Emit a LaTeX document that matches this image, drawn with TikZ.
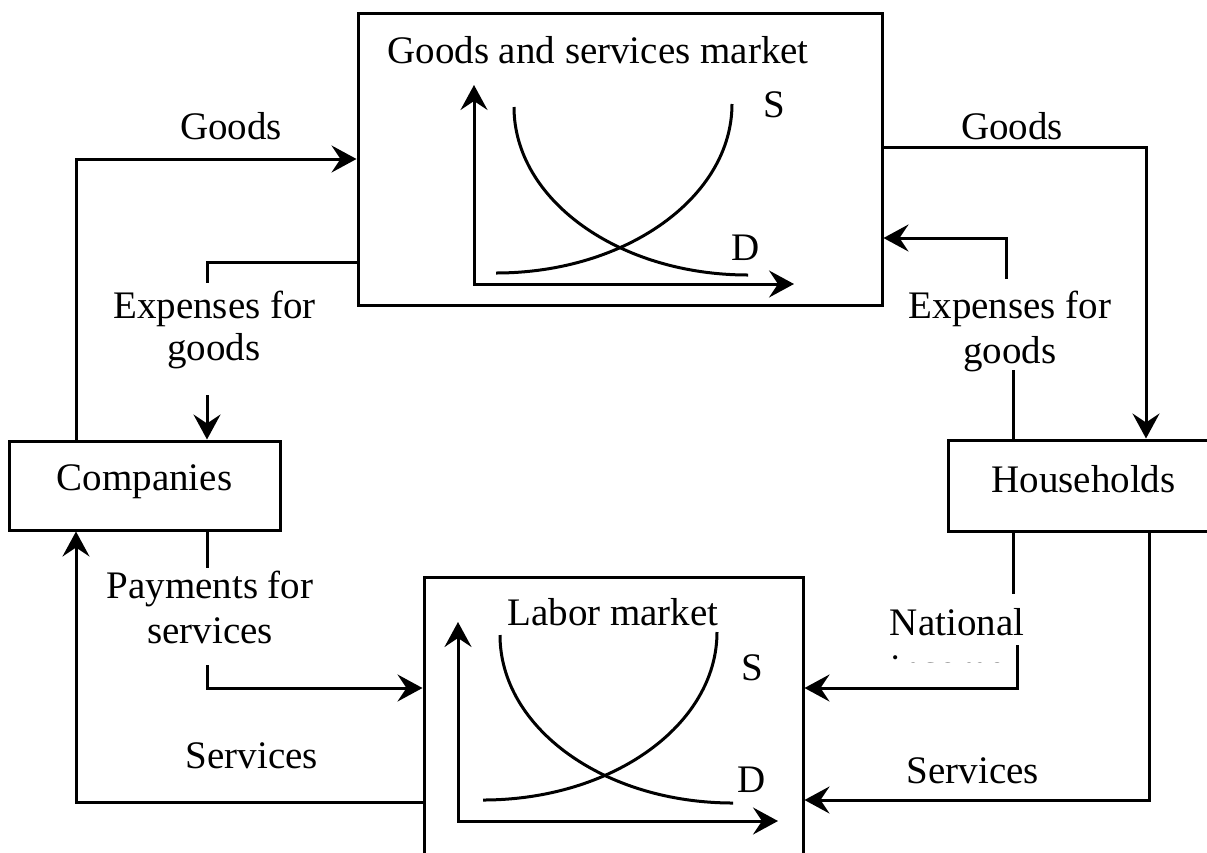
\documentclass[tikz,border=0pt]{standalone}
\usepackage{fontspec}
\setmainfont{Liberation Serif}
\usetikzlibrary{arrows.meta}
\begin{document}
\begin{tikzpicture}[x=1pt,y=-1pt,
  lw/.style={line width=3pt},
  tip/.tip={Stealth[length=25pt,width=27pt,inset=9pt]},
  flow/.style={lw,-tip},
  axes/.style={lw,tip-tip,line join=miter},
  curve/.style={line width=3pt},
  box/.style={draw,line width=3pt,inner sep=0pt,anchor=center,font=\fontsize{39}{45}\selectfont},
  txt/.style={font=\fontsize{39}{45}\selectfont,inner sep=0pt,anchor=base}]
\useasboundingbox (0,0) rectangle (1207,852);
\fill[white] (0,0) rectangle (1207,852);
\clip (0,0) rectangle (1207,852);

% boxes
\node[box,minimum width=524pt,minimum height=292pt] (goods) at (620,159) {};
\node[box,minimum width=271pt,minimum height=89pt,text height=27pt,text depth=18pt] (comp) at (144.5,485.5) {Companies};
\node[box,minimum width=271pt,minimum height=91pt,text height=27pt,text depth=14pt] (house) at (1083.5,485.5) {Households};
\node[box,minimum width=379pt,minimum height=306pt] (labor) at (613.5,730) {};

% goods market contents
\node[txt] (gtitle) at (598,63) {Goods and services market};
\coordinate (gy) at (474,85);
\coordinate (go) at (474,284);
\coordinate (gx) at (794,284);
\draw[axes] (gy) -- (go) -- (gx);
\draw[curve] (496,273) .. controls (626,273) and (732,197) .. (732,104);
\draw[curve] (514,107) .. controls (514,200) and (619,275) .. (748,275);
\node[txt] (gS) at (774,117) {S};
\node[txt] (gD) at (746,260) {D};

% labor market contents
\node[txt] (ltitle) at (613,625) {Labor market};
\coordinate (ly) at (458,622);
\coordinate (lo) at (458,821);
\coordinate (lx) at (778,821);
\draw[axes] (ly) -- (lo) -- (lx);
\draw[curve] (483,800) .. controls (612,800) and (717,725) .. (717,632);
\draw[curve] (500,635) .. controls (500,728) and (604,803) .. (733,803);
\node[txt] (lS) at (752,680) {S};
\node[txt] (lD) at (752,792) {D};

% labels
\node[txt] (goodsL) at (231,139) {Goods};
\node[txt] (goodsR) at (1012,139) {Goods};
\node[txt] (expL1) at (214.5,318) {Expenses for};
\node[txt] (expL2) at (214,360) {goods};
\node[txt] (expR1) at (1010,318) {Expenses for};
\node[txt] (expR2) at (1010,363) {goods};
\node[txt] (pay1) at (210,598) {Payments for};
\node[txt] (pay2) at (210,643) {services};
\node[txt] (servL) at (252,768) {Services};
\node[txt] (servR) at (973,783) {Services};
\node[txt] (nat1) at (957,635) {National};
\begin{scope}
\clip (870,645) rectangle (1010,662.5);
\node[txt] (nat2) at (948,681) {income};
\end{scope}

% connectors
\coordinate (gl) at (76,159);
\draw[flow] (gl |- comp.north) |- (gl -| goods.west);

\coordinate (el) at (207,262);
\coordinate (elend) at (207,283);
\draw[lw] (el -| goods.west) -| (elend);
\coordinate (ela) at (207,395);
\draw[flow] (ela) -- (ela |- comp.north);

\coordinate (sl) at (76,802);
\draw[flow] (sl -| labor.west) -| (sl |- comp.south);

\coordinate (ps) at (207,568);
\draw[lw] (ps |- comp.south) -- (ps);
\coordinate (pe) at (207,665);
\coordinate (pl) at (207,688);
\draw[flow] (pe) |- (pl -| labor.west);

\coordinate (gr) at (1146,147);
\draw[flow] (gr -| goods.east) -| (gr |- house.north);

\coordinate (er) at (1006,238);
\coordinate (ers) at (1006,279);
\draw[flow] (ers) |- (er -| goods.east);
\coordinate (erl) at (1013,370);
\draw[lw] (erl) -- (erl |- house.north);

\coordinate (ni) at (1013,594);
\draw[lw] (ni |- house.south) -- (ni);
\coordinate (ni2) at (1017,645);
\coordinate (ni3) at (1017,688);
\draw[flow] (ni2) |- (ni3 -| labor.east);

\coordinate (sr) at (1149,800);
\draw[flow] (sr |- house.south) |- (sr -| labor.east);
\end{tikzpicture}
\end{document}
